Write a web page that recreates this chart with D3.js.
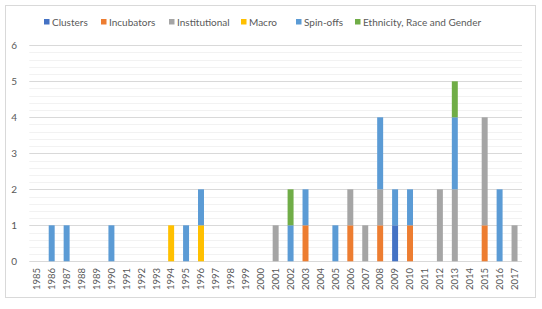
<!DOCTYPE html>
<html><head><meta charset="utf-8">
<script src="https://cdn.jsdelivr.net/npm/d3@7/dist/d3.min.js"></script>
<style>body{margin:0;background:#fff}svg{display:block}</style>
</head><body><svg id="c" width="542" height="309"></svg>
<script>
const years = d3.range(1985, 2018).map(String);
const seriesNames = ["Clusters","Incubators","Institutional","Macro","Spin-offs","Ethnicity, Race and Gender"];
const colors = ["#4472C4","#ED7D31","#A5A5A5","#FFC000","#5B9BD5","#70AD47"];
const clusters      = {"2009":1};
const incubators    = {"2003":1,"2006":1,"2008":1,"2010":1,"2015":1};
const institutional = {"2001":1,"2006":1,"2007":1,"2008":1,"2012":2,"2013":2,"2015":3,"2017":1};
const macro         = {"1994":1,"1996":1};
const spinoffs      = {"1986":1,"1987":1,"1990":1,"1995":1,"1996":1,"2002":1,"2003":1,"2005":1,"2008":2,"2009":1,"2010":1,"2013":2,"2016":2};
const ethnicity     = {"2002":1,"2013":1};
const yTicks = [0,1,2,3,4,5,6];

const seriesData = [clusters,incubators,institutional,macro,spinoffs,ethnicity];
const rows = years.map(y => {
  const r = {year:y};
  seriesNames.forEach((n,i)=> r[n] = seriesData[i][y] || 0);
  return r;
});
const svg = d3.select("#c");
const W=542,H=309;
svg.append("rect").attr("x",5.5).attr("y",5.5).attr("width",530).attr("height",292)
  .attr("fill","#fff").attr("stroke","#d9d9d9");
const m={l:29,r:20,t:45,b:48};
const x = d3.scaleBand().domain(years).range([29.3,522]).paddingInner(0.6).paddingOuter(0.3);
const y = d3.scaleLinear().domain([0,6]).range([261.3,45.3]);
const g = svg.append("g");
// minor grid
const minor = d3.range(0,6.001,0.2).filter(v=>Math.abs(v-Math.round(v))>1e-6);
g.selectAll(".mn").data(minor).join("line")
  .attr("x1",29.3).attr("x2",522).attr("y1",d=>Math.round(y(d))+0.5).attr("y2",d=>Math.round(y(d))+0.5)
  .attr("stroke","#f2f2f2");
g.selectAll(".mj").data(yTicks).join("line")
  .attr("x1",29.3).attr("x2",522).attr("y1",d=>Math.round(y(d))+0.5).attr("y2",d=>Math.round(y(d))+0.5)
  .attr("stroke","#d9d9d9");
const stack = d3.stack().keys(seriesNames)(rows);
g.selectAll(".s").data(stack).join("g").attr("fill",(d,i)=>colors[i])
  .selectAll("rect").data(d=>d.filter(p=>p[1]>p[0])).join("rect")
  .attr("x",d=>x(d.data.year)).attr("width",x.bandwidth())
  .attr("y",d=>y(d[1])).attr("height",d=>y(d[0])-y(d[1]));
// y labels
g.selectAll(".yl").data(yTicks).join("text")
  .attr("x",17).attr("y",d=>y(d)+3.5).attr("text-anchor","end")
  .attr("font-family","Lato, 'Open Sans', sans-serif").attr("font-size",10).attr("fill","#595959")
  .text(d=>d);
// x labels
g.selectAll(".xl").data(years).join("text")
  .attr("transform",d=>`translate(${x(d)+x.bandwidth()/2+3.3},268) rotate(-90)`)
  .attr("text-anchor","end")
  .attr("font-family","Lato, 'Open Sans', sans-serif").attr("font-size",9.5).attr("fill","#595959")
  .text(d=>d);
// legend
const legX = [44,101,169,241,296,355];
const lg = svg.append("g");
seriesNames.forEach((n,i)=>{
  lg.append("rect").attr("x",legX[i]).attr("y",19).attr("width",5.5).attr("height",5.5).attr("fill",colors[i]);
  lg.append("text").attr("x",legX[i]+8).attr("y",25.5)
    .attr("font-family","Lato, 'Open Sans', sans-serif").attr("font-size",10).attr("fill","#595959").text(n);
});
</script></body></html>
